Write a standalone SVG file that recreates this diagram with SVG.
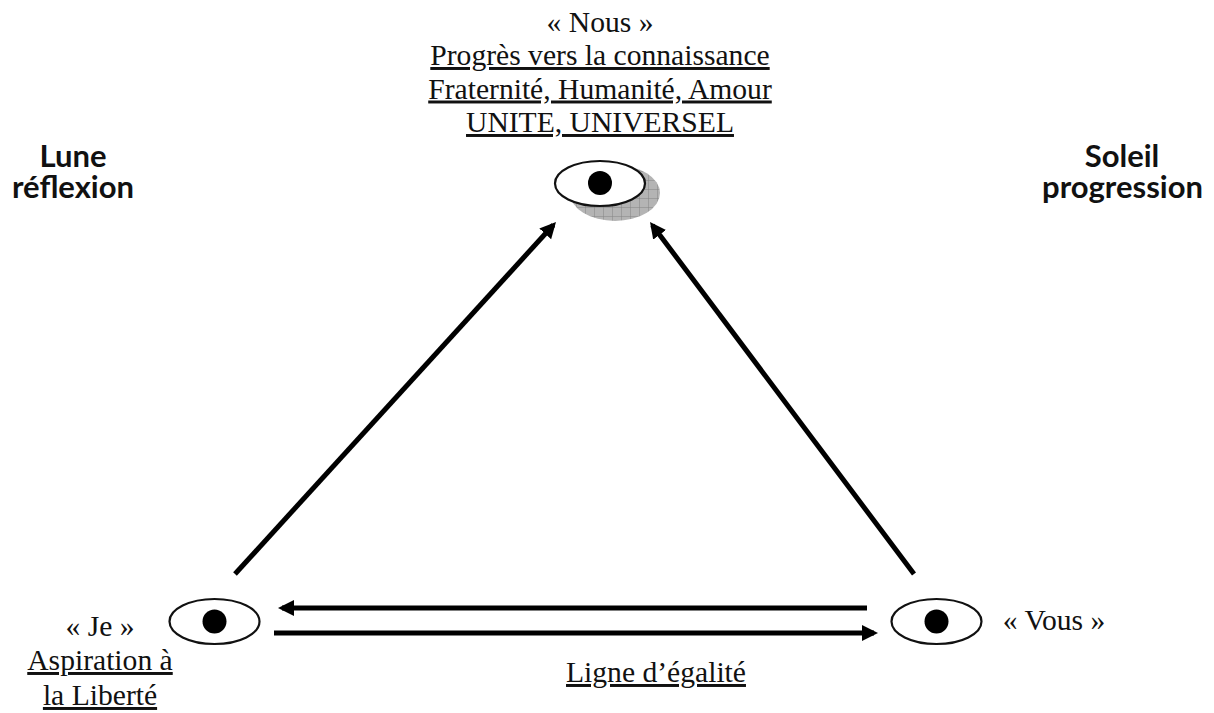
<svg xmlns="http://www.w3.org/2000/svg" width="1214" height="713" viewBox="0 0 1214 713">
<style>
.t{font-family:"Liberation Serif","Times New Roman",serif;font-size:29.600px;fill:#111;text-anchor:middle}
.u{text-decoration:underline}
.h{font-family:"Lato","DejaVu Sans",sans-serif;font-weight:700;font-size:31px;fill:#111;text-anchor:middle}
.eye{fill:#fff;stroke:#111;stroke-width:2.2}
.pupil{fill:#000}
.c{fill:none;stroke:#000;stroke-width:5;marker-end:url(#a)}
</style>
<defs>
<marker id="a" markerUnits="userSpaceOnUse" markerWidth="20" markerHeight="20" refX="12" refY="8" orient="auto"><path d="M0 0L16 8L0 16Z" fill="#000"/></marker>
<pattern id="hatch" patternUnits="userSpaceOnUse" width="9" height="9"><rect width="9" height="9" fill="#b4b4b4"/><path d="M0 0H9M0 0V9" stroke="#858585" stroke-width="1"/></pattern>
</defs>
<rect width="1214" height="713" fill="#fff"/>
<g id="connectors">
<line class="c" x1="235" y1="574" x2="553.300" y2="225"/>
<line class="c" x1="914" y1="574" x2="652.400" y2="225.200"/>
<line class="c" x1="867" y1="608" x2="282" y2="608"/>
<line class="c" x1="274" y1="633" x2="874" y2="633"/>
</g>
<g id="node-nous">
<text class="t" x="600" y="32">« Nous »</text>
<text class="t u" x="600" y="65">Progrès vers la connaissance</text>
<text class="t u" x="600" y="98.500">Fraternité, Humanité, Amour</text>
<text class="t u" x="600" y="132">UNITE, UNIVERSEL</text>
<ellipse cx="615" cy="193" rx="45" ry="28" fill="url(#hatch)"/>
<ellipse class="eye" cx="600" cy="183.500" rx="45" ry="22.500"/>
<circle class="pupil" cx="600" cy="183" r="12"/>
</g>
<g id="node-je">
<text class="t" x="100" y="636">« Je »</text>
<text class="t u" x="100" y="670">Aspiration à</text>
<text class="t u" x="100" y="705">la Liberté</text>
<ellipse class="eye" cx="214.500" cy="621.500" rx="45" ry="22.500"/>
<circle class="pupil" cx="214.500" cy="621.500" r="12"/>
</g>
<g id="node-vous">
<ellipse class="eye" cx="936.500" cy="621.500" rx="45" ry="22.500"/>
<circle class="pupil" cx="936.500" cy="621.500" r="12"/>
<text class="t" x="1054" y="630">« Vous »</text>
</g>
<g id="label-lune">
<text class="h" x="73" y="167">Lune</text>
<text class="h" x="73" y="198">réflexion</text>
</g>
<g id="label-soleil">
<text class="h" x="1122" y="167">Soleil</text>
<text class="h" x="1122.500" y="198">progression</text>
</g>
<text class="t u" x="656" y="682">Ligne d’égalité</text>
</svg>
